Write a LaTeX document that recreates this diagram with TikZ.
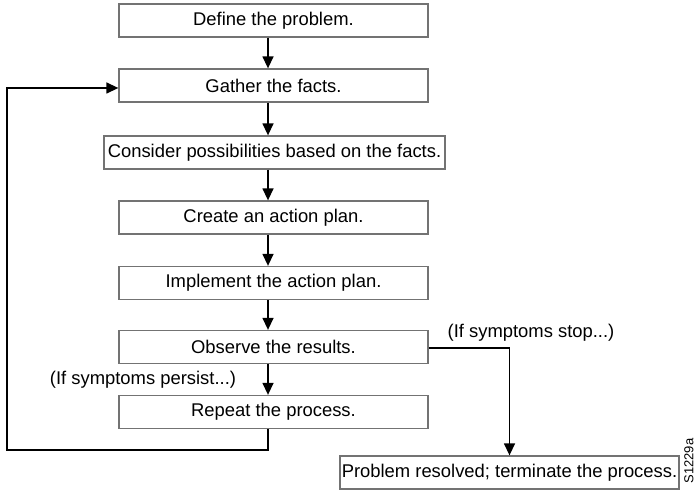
\documentclass[tikz,border=0pt]{standalone}
\usepackage{fontspec}
\setmainfont{Liberation Sans}
\usetikzlibrary{arrows.meta}
\begin{document}
\begin{tikzpicture}[x=1bp,y=-1bp,
  stepbox/.style={draw=black!55,line width=1.3bp,fill=white,minimum height=33bp,inner sep=0pt,font=\fontsize{18.4bp}{20bp}\selectfont},
  conn/.style={line width=1.4bp,black},
  arr/.style={conn,-{Triangle[width=11bp,length=12bp]}},
  lbl/.style={inner sep=0pt,font=\fontsize{18.4bp}{20bp}\selectfont}]
\useasboundingbox (0,0) rectangle (698,492);
\coordinate (ax) at (268,0);
\node[stepbox,minimum width=309bp] (b1) at (273.5,20.5) {Define the problem.};
\node[stepbox,minimum width=309bp] (b2) at (273.5,85.5) {Gather the facts.};
\node[stepbox,minimum width=341bp] (b3) at (274.5,152.5) {Consider possibilities based on the facts.};
\node[stepbox,minimum width=309bp] (b4) at (273.5,217.5) {Create an action plan.};
\node[stepbox,minimum width=309bp] (b5) at (273.5,283) {Implement the action plan.};
\node[stepbox,minimum width=309bp] (b6) at (273.5,347) {Observe the results.};
\node[stepbox,minimum width=309bp] (b7) at (273.5,412) {Repeat the process.};
\node[stepbox,minimum width=339bp] (b8) at (509.5,472.5) {Problem resolved; terminate the process.};
\node[lbl] (persist) at (143,380) {(If symptoms persist...)};
\node[lbl] (stop) at (531,333) {(If symptoms stop...)};
\node[inner sep=0pt,rotate=90,font=\fontsize{13bp}{14bp}\selectfont] (code) at (689,461) {S1229a};
\coordinate (loopbl) at (7,450);
\draw[arr] (b1.south -| ax) -- (b2.north -| ax);
\draw[arr] (b2.south -| ax) -- (b3.north -| ax);
\draw[arr] (b3.south -| ax) -- (b4.north -| ax);
\draw[arr] (b4.south -| ax) -- (b5.north -| ax);
\draw[arr] (b5.south -| ax) -- (b6.north -| ax);
\draw[arr] (b6.south -| ax) -- (b7.north -| ax);
\draw[arr] (b7.south -| ax) |- (loopbl) |- ([yshift=-2.5bp]b2.west);
\draw[arr] ([yshift=-1bp]b6.east) -| (b8.north);
\end{tikzpicture}
\end{document}
